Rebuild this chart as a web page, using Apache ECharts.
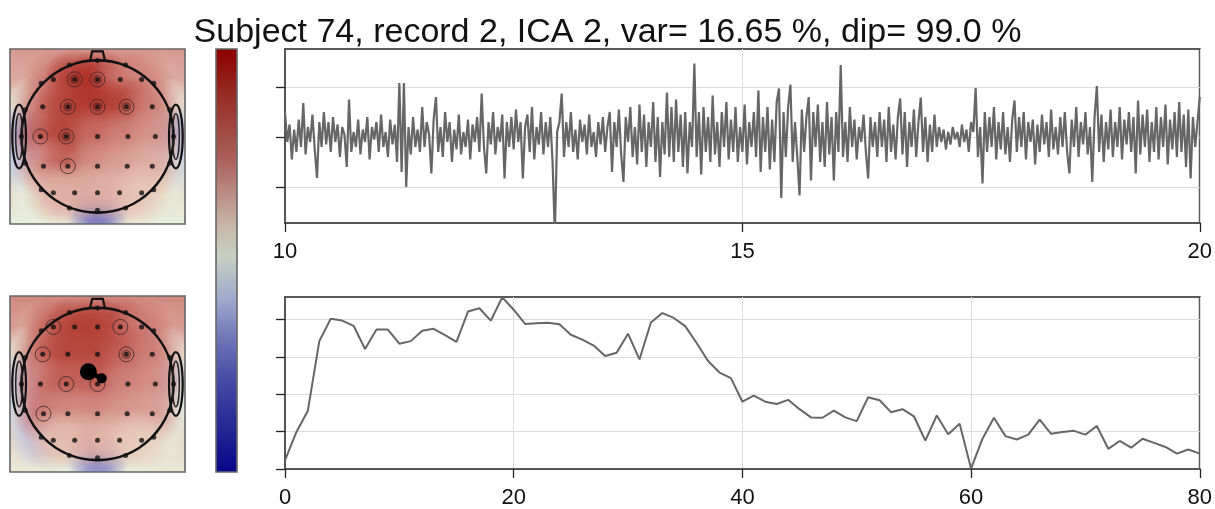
<!DOCTYPE html>
<html>
<head>
<meta charset="utf-8">
<script src="https://cdn.jsdelivr.net/npm/echarts@6/dist/echarts.min.js"></script>
<style>
html, body { margin: 0; background: #fff; }
#main { width: 1215px; height: 509px; }
</style>
</head>
<body>
<div id="main"></div>
<script>
// 标题
var chartTitle = 'Subject 74, record 2, ICA 2, var= 16.65 %, dip= 99.0 %'

// ICA 时间序列, 10-20 s, 40 个采样/秒
var tStart = 10
var fs = 40
var icaSignal = [
    0.5, -0.1, 0.25, -0.45, 0.15, -0.3, 0.35, -0.2, 0.68, -0.35, 0.2, -0.1, 0.45, -0.25, -0.82, 0.3, -0.2, 0.5, -0.15, 0.3,
    -0.3, 0.4, -0.1, 0.25, -0.4, 0.2, 0.05, -0.6, 0.75, -0.3, 0.1, -0.2, 0.35, -0.35, 0.15, -0.1, 0.4, -0.45, 0.2, -0.05,
    0.3, -0.3, 0.45, -0.2, 0.1, -0.4, 0.35, -0.15, 0.25, -0.5, 1.08, -0.7, 1.08, -1.0, 0.2, -0.35, 0.4, -0.2, 0.15, -0.3,
    0.6, -0.2, 0.3, 0.05, -0.73, 0.35, 0.8, -0.3, 0.2, -0.4, 0.5, -0.1, 0.3, -0.5, 0.15, -0.25, 0.45, -0.35, 0.1, -0.2,
    0.35, -0.45, 0.25, -0.1, 0.4, -0.3, 0.87, -0.2, -0.73, 0.3, -0.15, 0.5, -0.35, 0.2, -0.1, 0.45, -0.83, 0.3, -0.2, 0.4,
    -0.25, 0.55, -0.1, 0.3, -0.83, 0.2, 0.45, -0.3, 0.6, -0.45, 0.2, -0.15, 0.5, -0.35, 0.3, -0.2, 0.4, -0.5, -1.95, 0.1,
    0.3, 0.87, -0.4, 0.3, -0.2, 0.5, -0.3, 0.15, -0.45, 0.35, -0.1, 0.25, -0.35, 0.45, -0.2, 0.1, -0.4, 0.3, -0.15, 0.4,
    -0.3, 0.2, 0.5, -0.7, 0.3, -0.2, 0.55, -0.35, -0.9, 0.4, -0.1, 0.6, -0.4, 0.2, -0.55, 0.65, -0.3, 0.45, -0.6, 0.3,
    -0.2, 0.7, -0.5, 0.4, -0.8, 0.3, -0.35, 0.89, -0.4, 0.6, -0.5, 0.75, -0.3, 0.45, -0.6, 0.5, -0.73, 0.3, -0.2, 1.47,
    -0.4, 0.5, -0.75, 0.6, -0.3, 0.4, -0.5, 0.83, -0.35, 0.3, -0.6, 0.5, -0.2, 0.7, -0.45, 0.35, -0.3, 0.6, -0.5, 0.2,
    -0.3, 0.65, -0.55, 0.3, -0.2, 0.5, -0.4, 0.93, -0.7, 0.4, -0.3, 0.6, -0.65, 0.35, -0.5, 0.7, 0.97, -1.22, 0.5, -0.4,
    0.6, 1.05, -0.5, 0.3, -0.4, -1.17, 0.55, -0.3, 0.4, 0.8, -0.87, 0.5, -0.2, 0.65, -0.5, 0.3, -0.6, 0.7, -0.35, 0.4,
    -0.87, 0.5, -0.3, 1.44, -0.4, 0.3, -0.5, 0.6, -0.2, 0.35, -0.45, 0.2, -0.1, 0.45, -0.3, -0.83, 0.4, -0.2, 0.3, -0.4,
    0.5, -0.2, 0.35, -0.5, 0.6, -0.3, 0.25, -0.45, 0.4, 0.77, -0.35, 0.5, -0.6, 0.3, -0.2, 0.55, -0.4, 0.3, 0.79, -0.3,
    0.4, -0.5, 0.25, -0.3, 0.45, -0.2, 0.2, -0.1, 0.15, -0.25, 0.1, -0.15, 0.2, -0.05, 0.1, -0.2, 0.25, -0.1, 0.15, -0.3,
    0.3, 0.1, 0.98, -0.4, 0.2, -0.93, 0.5, -0.3, 0.4, -0.2, 0.6, -0.45, 0.3, -0.25, 0.5, -0.35, 0.2, -0.5, 0.35, 0.73,
    -0.3, 0.4, -0.2, 0.5, -0.45, 0.3, -0.1, 0.35, -0.55, 0.25, -0.3, 0.45, -0.15, 0.3, -0.4, 0.55, -0.25, 0.2, -0.35, 0.4,
    -0.2, 0.5, -0.3, -0.73, 0.35, -0.2, 0.6, -0.4, 0.3, -0.15, 0.5, -0.35, 0.2, -0.9, 0.4, 1.02, -0.3, 0.45, -0.5, 0.3,
    -0.25, 0.55, -0.4, 0.3, -0.2, 0.6, -0.45, 0.35, -0.15, 0.5, -0.3, 0.4, -0.73, 0.73, -0.35, 0.45, -0.2, 0.55, -0.5, 0.3,
    -0.3, 0.6, -0.45, 0.4, -0.2, 0.65, -0.55, 0.35, -0.25, 0.5, -0.4, 0.7, -0.3, 0.45, -0.6, 0.55, -0.83, 0.4, -0.2, 0.3, 0.8
]
var ampTicks = [-1, 0, 1]

// 频谱, 0-80 Hz, 每 1 Hz 一个点
var spectrum = [
    0.23, 0.99, 1.56, 3.42, 4.02, 3.97, 3.83, 3.21, 3.73, 3.73,
    3.35, 3.42, 3.7, 3.75, 3.58, 3.4, 4.21, 4.3, 3.97, 4.59,
    4.26, 3.88, 3.9, 3.91, 3.87, 3.59, 3.46, 3.3, 3.02, 3.11,
    3.62, 2.93, 3.92, 4.17, 4.04, 3.82, 3.37, 2.89, 2.58, 2.43,
    1.8, 1.96, 1.8, 1.74, 1.85, 1.6, 1.38, 1.37, 1.56, 1.38,
    1.28, 1.92, 1.84, 1.52, 1.6, 1.41, 0.76, 1.43, 0.93, 1.21,
    0.01, 0.81, 1.37, 0.88, 0.79, 0.92, 1.32, 0.94, 0.99, 1.02,
    0.92, 1.15, 0.54, 0.75, 0.57, 0.81, 0.7, 0.59, 0.41, 0.52,
    0.41
]
var specTicks = [0, 1, 2, 3, 4]

// 色条
var cbTicks = [0, 1, 2, 3]
var cbMin = -0.686
var cbMax = 3.31
var cmapStops = [
    [0, '#05058a'], [0.12, '#282d96'], [0.22, '#464ba5'], [0.32, '#7078b8'],
    [0.41, '#a0aacd'], [0.51, '#c5d0c1'], [0.58, '#c8b8a8'], [0.64, '#be968c'],
    [0.74, '#aa5f5a'], [0.88, '#963028'], [1, '#8c0000']
]

// 电极位置 (头半径 = 1): 先外圈 16 个, 再内部 5x5
var elecX = [
    0, -0.37, 0.37, -0.74, 0.74, -0.95, 0.95, -1.0, 1.0, -0.95, 0.95, -0.74, 0.74, -0.37, 0.37, 0,
    -0.58, -0.30, 0, 0.30, 0.58,
    -0.72, -0.39, 0, 0.38, 0.72,
    -0.75, -0.41, 0, 0.40, 0.76,
    -0.71, -0.39, 0, 0.39, 0.72,
    -0.58, -0.30, 0, 0.29, 0.58
]
var elecY = [
    1.0, 0.94, 0.94, 0.70, 0.70, 0.35, 0.35, 0, 0, -0.35, -0.35, -0.70, -0.70, -0.94, -0.94, -0.97,
    0.75, 0.75, 0.75, 0.75, 0.75,
    0.39, 0.39, 0.39, 0.39, 0.39,
    0, 0, 0, 0, 0,
    -0.39, -0.39, -0.39, -0.39, -0.39,
    -0.74, -0.74, -0.74, -0.74, -0.74
]
// 拓扑图数值 (-1 .. 1)
var topo1Values = [
    0.35, 0.35, 0.35, 0.3, 0.3, 0.05, 0.05, -0.25, -0.25, -0.15, -0.1, 0.02, 0.05, 0.12, 0.12, -0.55,
    0.45, 0.78, 0.82, 0.5, 0.42,
    0.5, 0.75, 0.8, 0.75, 0.45,
    0.58, 0.75, 0.55, 0.45, 0.38,
    0.4, 0.6, 0.4, 0.35, 0.3,
    0.28, 0.3, 0.3, 0.28, 0.22
]
var topo2Values = [
    0.4, 0.4, 0.4, 0.3, 0.35, 0.05, 0.1, -0.15, -0.1, -0.1, 0.0, -0.2, 0.05, 0.0, 0.05, -0.45,
    0.55, 0.72, 0.75, 0.68, 0.45,
    0.55, 0.72, 0.72, 0.6, 0.45,
    0.45, 0.6, 0.62, 0.45, 0.4,
    0.48, 0.42, 0.42, 0.38, 0.35,
    0.25, 0.25, 0.3, 0.25, 0.2
]
// 盒子上/下边缘的数值
var topo1Edge = [0.35, 0.05]
var topo2Edge = [0.4, 0.08]
// 等值线小圈 (电极序号)
var topo1Rings = [17, 18, 22, 23, 24, 26, 27, 32]
var topo1Double = [17, 18, 22, 23, 24, 27]
var topo2Rings = [16, 19, 21, 24, 27, 28, 31]
var topo2Double = [24]
// 偶极子
var dipoleX = [-0.12, 0.056]
var dipoleY = [0.16, 0.074]

var fontName = 'Liberation Sans, Arial, sans-serif'
var blobRadius = 0.42

var hexRgb = function(h) {
    return [parseInt(h.slice(1, 3), 16), parseInt(h.slice(3, 5), 16), parseInt(h.slice(5, 7), 16)]
}
var cmapRgb = function(t) {
    t = Math.max(0, Math.min(1, t))
    for (var i = 0; i < cmapStops.length - 1; i++) {
        var a = cmapStops[i], b = cmapStops[i + 1]
        if (t <= b[0]) {
            var f = (t - a[0]) / (b[0] - a[0])
            var ca = hexRgb(a[1]), cb = hexRgb(b[1])
            return [0, 1, 2].map(function(k) { return ca[k] + (cb[k] - ca[k]) * f })
        }
    }
    return hexRgb(cmapStops[cmapStops.length - 1][1])
}
var topoRgb = function(v) {
    return cmapRgb((v + 1) / 2).map(function(x) { return Math.min(255, Math.round(x * 1.18)) })
}
var rgba = function(c, a) {
    return 'rgba(' + c[0] + ',' + c[1] + ',' + c[2] + ',' + a + ')'
}

var fieldRender = function(values, edge) {
    return function(params, api) {
        var cs = params.coordSys
        var box = {x: cs.x, y: cs.y, width: cs.width, height: cs.height}
        var kids = [{
            type: 'rect', shape: box,
            style: {fill: {type: 'linear', x: 0, y: 0, x2: 0, y2: 1, colorStops: [
                {offset: 0, color: rgba(topoRgb(edge[0]), 1)},
                {offset: 1, color: rgba(topoRgb(edge[1]), 1)}
            ]}}
        }]
        var r = api.size([blobRadius, 0])[0]
        for (var i = 0; i < elecX.length; i++) {
            var p = api.coord([elecX[i], elecY[i]])
            var c = topoRgb(values[i])
            kids.push({
                type: 'circle', shape: {cx: p[0], cy: p[1], r: r},
                style: {fill: {type: 'radial', x: 0.5, y: 0.5, r: 0.5, colorStops: [
                    {offset: 0, color: rgba(c, 1)},
                    {offset: 0.45, color: rgba(c, 0.7)},
                    {offset: 1, color: rgba(c, 0)}
                ]}}
            })
        }
        return {type: 'group', children: kids}
    }
}

var headRender = function(params, api) {
    var c = api.coord([0, 0])
    var u = api.size([1, 1])
    var cs = params.coordSys
    var kids = []
    kids.push({type: 'circle', shape: {cx: c[0], cy: c[1], r: u[0]},
        style: {fill: 'none', stroke: '#111', lineWidth: 2.6}})
    ;[-1, 1].forEach(function(s) {
        kids.push({type: 'ellipse', shape: {cx: c[0] + s * 1.03 * u[0], cy: c[1], rx: 0.09 * u[0], ry: 0.42 * u[1]},
            style: {fill: 'none', stroke: '#111', lineWidth: 2.2}})
        kids.push({type: 'ellipse', shape: {cx: c[0] + s * 1.03 * u[0], cy: c[1], rx: 0.045 * u[0], ry: 0.3 * u[1]},
            style: {fill: 'none', stroke: '#222', lineWidth: 1.4}})
    })
    kids.push({type: 'polyline', shape: {points: [
        [c[0] - 0.1 * u[0], c[1] - 0.99 * u[1]],
        [c[0] - 0.07 * u[0], c[1] - 1.12 * u[1]],
        [c[0] + 0.07 * u[0], c[1] - 1.12 * u[1]],
        [c[0] + 0.1 * u[0], c[1] - 0.99 * u[1]]
    ]}, style: {fill: 'none', stroke: '#111', lineWidth: 2.2}})
    kids.push({type: 'rect', shape: {x: cs.x, y: cs.y, width: cs.width, height: cs.height},
        style: {fill: 'none', stroke: '#666', lineWidth: 1.6}})
    return {type: 'group', children: kids}
}

var colorbarRender = function(params, api) {
    var p0 = api.coord([0, cbMax])
    var p1 = api.coord([1, cbMin])
    var stops = cmapStops.map(function(s) { return {offset: 1 - s[0], color: s[1]} }).reverse()
    return {
        type: 'rect',
        shape: {x: p0[0], y: p0[1], width: p1[0] - p0[0], height: p1[1] - p0[1]},
        style: {fill: {type: 'linear', x: 0, y: 0, x2: 0, y2: 1, colorStops: stops}, stroke: '#666', lineWidth: 1.6}
    }
}

var elecData = elecX.map(function(x, i) { return [x, elecY[i]] })
var pick = function(idx) { return idx.map(function(i) { return [elecX[i], elecY[i]] }) }

var topoSeries = function(gi, values, edge, rings, doubles) {
    return [
        {type: 'custom', xAxisIndex: gi, yAxisIndex: gi, data: [[0, 0]], clip: true, z: 1,
            renderItem: fieldRender(values, edge), silent: true},
        {type: 'scatter', xAxisIndex: gi, yAxisIndex: gi, data: pick(rings), symbolSize: 15, z: 3,
            itemStyle: {color: 'rgba(0,0,0,0)', borderColor: '#3a2626', borderWidth: 1}},
        {type: 'scatter', xAxisIndex: gi, yAxisIndex: gi, data: pick(doubles), symbolSize: 8, z: 3,
            itemStyle: {color: 'rgba(0,0,0,0)', borderColor: '#3a2626', borderWidth: 1}},
        {type: 'custom', xAxisIndex: gi, yAxisIndex: gi, data: [[0, 0]], z: 4,
            renderItem: headRender, silent: true},
        {type: 'scatter', xAxisIndex: gi, yAxisIndex: gi, data: elecData, symbolSize: 5, z: 5,
            itemStyle: {color: '#111'}}
    ]
}

var tickStyle = {length: 9, lineStyle: {color: '#222', width: 1.3}}
var lineAxis = {onZero: false, lineStyle: {color: '#555', width: 2}}
var gridLine = {show: true, lineStyle: {color: '#dcdcdc', width: 1}}
var labelStyle = {margin: 18, fontSize: 22, color: '#111', fontFamily: fontName}

var series = []
series = series.concat(topoSeries(0, topo1Values, topo1Edge, topo1Rings, topo1Double))
series = series.concat(topoSeries(1, topo2Values, topo2Edge, topo2Rings, topo2Double))
series.push({
    type: 'line', xAxisIndex: 1, yAxisIndex: 1, z: 6,
    data: dipoleX.map(function(x, i) { return [x, dipoleY[i]] }),
    symbol: 'circle', showSymbol: true,
    symbolSize: function(v, p) { return p.dataIndex === 0 ? 17 : 10 },
    itemStyle: {color: '#000'}, lineStyle: {color: '#000', width: 5}
})
series.push({type: 'custom', xAxisIndex: 2, yAxisIndex: 2, data: [[0, 0]], renderItem: colorbarRender, silent: true})
series.push({
    type: 'line', xAxisIndex: 3, yAxisIndex: 3, showSymbol: false,
    data: icaSignal.map(function(v, i) { return [tStart + i / fs, v] }),
    lineStyle: {color: '#666', width: 2.2}
})
series.push({
    type: 'line', xAxisIndex: 4, yAxisIndex: 4, showSymbol: false,
    data: spectrum.map(function(v, i) { return [i, v] }),
    lineStyle: {color: '#666', width: 2}
})

var myChart = echarts.init(document.querySelector('#main'))
var option = {
    animation: false,
    backgroundColor: '#fff',
    textStyle: {fontFamily: fontName},
    title: {
        text: chartTitle, left: 'center', top: 11,
        textStyle: {fontSize: 34, fontWeight: 'normal', color: '#111', fontFamily: fontName}
    },
    grid: [
        {left: 10, top: 49, width: 175, height: 175},
        {left: 10, top: 296, width: 175, height: 176},
        {left: 216, top: 49, width: 21, height: 423},
        {left: 285, top: 49, width: 920, height: 174, show: true, borderColor: '#5a5a5a', borderWidth: 2},
        {left: 285, top: 297, width: 920, height: 173, show: true, borderColor: '#5a5a5a', borderWidth: 2}
    ],
    xAxis: [
        {gridIndex: 0, type: 'value', min: -1.15, max: 1.15, show: false},
        {gridIndex: 1, type: 'value', min: -1.15, max: 1.15, show: false},
        {gridIndex: 2, type: 'value', min: 0, max: 1, show: false},
        {gridIndex: 3, type: 'value', min: 10, max: 20, interval: 5,
            axisLine: lineAxis, axisTick: tickStyle, axisLabel: labelStyle, splitLine: gridLine},
        {gridIndex: 4, type: 'value', min: 0, max: 80, interval: 20,
            axisLine: lineAxis, axisTick: tickStyle, axisLabel: labelStyle, splitLine: gridLine}
    ],
    yAxis: [
        {gridIndex: 0, type: 'value', min: -1.15, max: 1.15, show: false},
        {gridIndex: 1, type: 'value', min: -1.157, max: 1.157, show: false},
        {gridIndex: 2, type: 'value', min: cbMin, max: cbMax, position: 'right',
            axisLine: {show: false}, axisLabel: {show: false}, splitLine: {show: false},
            axisTick: {customValues: cbTicks, length: 9, lineStyle: {color: '#333', width: 1.3}}},
        {gridIndex: 3, type: 'value', min: -1.72, max: 1.76,
            axisLine: lineAxis, axisLabel: {show: false}, splitLine: gridLine,
            axisTick: {customValues: ampTicks, length: 9, lineStyle: {color: '#222', width: 1.3}}},
        {gridIndex: 4, type: 'value', min: 0, max: 4.6,
            axisLine: lineAxis, axisLabel: {show: false}, splitLine: gridLine,
            axisTick: {customValues: specTicks, length: 9, lineStyle: {color: '#222', width: 1.3}}}
    ],
    series: series
}
myChart.setOption(option)
</script>
</body>
</html>
